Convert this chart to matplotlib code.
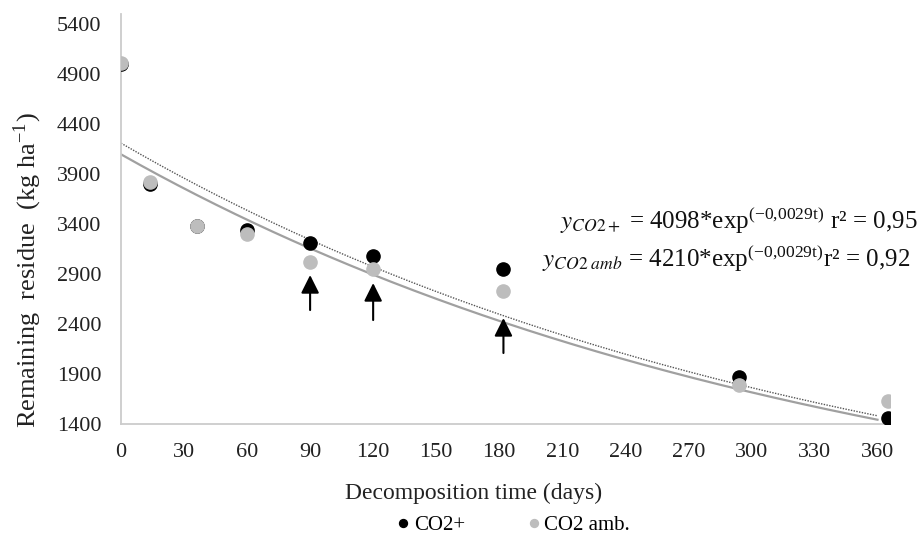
import numpy as np
import matplotlib.pyplot as plt

plt.rcParams['font.family'] = ['Liberation Serif', 'DejaVu Serif']
plt.rcParams['mathtext.fontset'] = 'stix'

# sampling days and remaining residue (kg/ha)
days = [0, 14, 36, 60, 90, 120, 182, 294, 365]
co2_plus = [5000, 3800, 3380, 3340, 3210, 3080, 2950, 1870, 1460]
co2_amb = [5010, 3820, 3380, 3300, 3020, 2950, 2730, 1790, 1630]

# fitted exponential models (a * exp(b t)) printed on the chart
fit_plus = (4098, -0.0029)
fit_amb = (4210, -0.0029)

# arrows: day, tail value, head value
arrow_days = [90, 120, 182]
arrow_tail = [2540, 2440, 2110]
arrow_head = [2890, 2810, 2460]

x_ticks = list(range(0, 361, 30))
y_ticks = list(range(1400, 5401, 500))

fig = plt.figure(figsize=(9.2, 5.35), dpi=100)
ax = fig.add_axes([0.1315, 0.2075, 0.836, 0.766])

t = np.linspace(0, 360, 200)
ax.plot(t, fit_plus[0] * np.exp(fit_plus[1] * t), color='#a0a0a0', lw=1.6, zorder=2)
ax.plot(t, fit_amb[0] * np.exp(fit_amb[1] * t), color='#555555', lw=1.0,
        linestyle=(0, (1, 1)), zorder=2)

ax.plot(days, co2_plus, 'o', color='black', ms=9.5, zorder=3, label='CO2+')
ax.plot(days, co2_amb, 'o', color='#bdbdbd', ms=9.5, zorder=4, label='CO2 amb.')

for d, a0, a1 in zip(arrow_days, arrow_tail, arrow_head):
    ax.annotate('', xy=(d, a1), xytext=(d, a0),
                arrowprops=dict(arrowstyle='-|>,head_width=0.55,head_length=1.1',
                                color='black', lw=1.5, shrinkA=0, shrinkB=0))

ax.set_xlim(0, 366)
ax.set_ylim(1400, 5500)
ax.set_xticks(x_ticks)
ax.set_yticks(y_ticks)
ax.tick_params(axis='y', length=0, labelsize=16, pad=14, colors='#222222')
ax.tick_params(axis='x', length=0, labelsize=16, pad=14, colors='#222222')
for s in ['top', 'right']:
    ax.spines[s].set_visible(False)
for s in ['left', 'bottom']:
    ax.spines[s].set_color('#cccccc')
    ax.spines[s].set_linewidth(1.3)

ax.set_xlabel('Decomposition time (days)', fontsize=17, color='#222222')
ax.xaxis.set_label_coords(0.458, -0.143)
ax.set_ylabel(r'Remaining  residue  (kg ha$^{\mathregular{-1}}$)', fontsize=19,
              color='#222222')
ax.yaxis.set_label_coords(-0.10, 0.376)

eq1 = r'$y_{CO2+}$ = 4098*exp$^{\mathregular{(-0{,}0029t)}}$ r² = 0,95'
eq2 = r'$y_{CO2\ amb}$ = 4210*exp$^{\mathregular{(-0{,}0029t)}}$r² = 0,92'
fig.text(0.997, 0.588, eq1, ha='right', va='center', fontsize=18, color='#111111')
fig.text(0.989, 0.517, eq2, ha='right', va='center', fontsize=18, color='#111111')

fig.legend(loc='lower center', bbox_to_anchor=(0.557, -0.035), ncol=2, frameon=False,
           fontsize=15, markerscale=0.6, handletextpad=0.1, columnspacing=2.9,
           handlelength=0.8)

fig.savefig('out.png', dpi=100)
